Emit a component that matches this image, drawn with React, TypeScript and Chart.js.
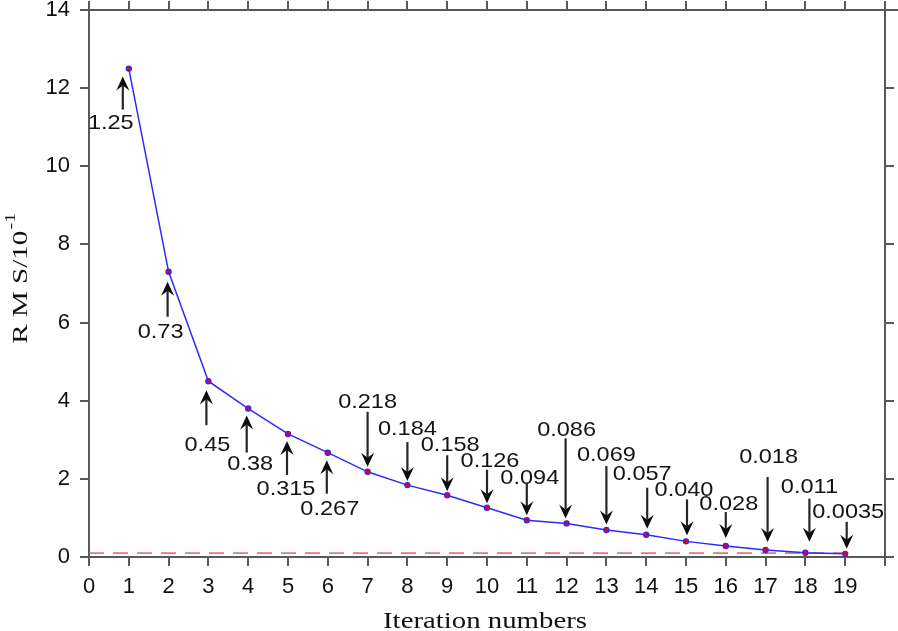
import React, { useEffect, useRef } from 'react';
import { Chart, registerables } from 'chart.js';

Chart.register(...registerables);

// ---------- data ----------
const iterations = [1, 2, 3, 4, 5, 6, 7, 8, 9, 10, 11, 12, 13, 14, 15, 16, 17, 18, 19];
const rmsValues = [12.5, 7.3, 4.5, 3.8, 3.15, 2.67, 2.18, 1.84, 1.58, 1.26, 0.94, 0.86, 0.69, 0.57, 0.4, 0.28, 0.18, 0.11, 0.08];
const rmsLabels = ['1.25', '0.73', '0.45', '0.38', '0.315', '0.267', '0.218', '0.184', '0.158', '0.126', '0.094', '0.086', '0.069', '0.057', '0.040', '0.028', '0.018', '0.011', '0.0035'];
const thresholdLevel = 0.1;
const thresholdXs = [0, 19.2];
const xMin = 0;
const xMax = 20;
const yMin = 0;
const yMax = 14;
const xTitle = 'Iteration numbers';
const yTitleMain = 'R M S/10';
const yTitleSup = '-1';

// ---------- annotation layout (pixel offsets relative to each point) ----------
const annTip = [8, 10, 9, 7, 7, 7.5, -5, -4, -4, -4.5, -5, -5, -5.5, -6, -6, -8, -8, -11, -5];
const annTail = [41, 45, 44, 44, 41, 41, -60, -43, -40, -38, -37, -85, -64, -47, -42, -34, -73, -54, -32];
const annLabel = [53, 59, 62, 54, 54, 55, -71, -58, -52, -48, -44, -95, -77, -62, -53, -43.5, -94, -67, -43];
const annArrowDx = [-6, -1, -2, -1.5, -1, -1, 0, 0, 0, 0, 0, -1, 0, 1, 1, 0, 2, 4, 1.5];
const annLabelDx = [-18, -8, -1, 2, -2, 2, 0, 0, 3, 3, 3, 0, 0, -4, -2, 3, 3, 4, 3];

const W = 898;
const H = 631;
const AXIS_COLOR = '#595959';
const SANS = '"Liberation Sans", Arial, Helvetica, sans-serif';
const SERIF = '"Liberation Serif", "Times New Roman", Times, serif';

function drawArrow(ctx: CanvasRenderingContext2D, x: number, y0: number, y1: number) {
  const dir = y1 > y0 ? 1 : -1;
  const headLen = 14;
  const headHalf = 6.5;
  const notch = 9;
  ctx.strokeStyle = '#262626';
  ctx.lineWidth = 2.2;
  ctx.beginPath();
  ctx.moveTo(x, y0);
  ctx.lineTo(x, y1 - dir * notch);
  ctx.stroke();
  ctx.fillStyle = '#0d0d0d';
  ctx.beginPath();
  ctx.moveTo(x, y1);
  ctx.lineTo(x - headHalf, y1 - dir * headLen);
  ctx.lineTo(x, y1 - dir * notch);
  ctx.lineTo(x + headHalf, y1 - dir * headLen);
  ctx.closePath();
  ctx.fill();
}

const arrowsPlugin = {
  id: 'rmsArrows',
  afterDatasetsDraw(chart: any) {
    const ctx: CanvasRenderingContext2D = chart.ctx;
    const xs = chart.scales.x;
    const ys = chart.scales.y;
    ctx.save();
    iterations.forEach((it, i) => {
      const px = xs.getPixelForValue(it);
      const py = ys.getPixelForValue(rmsValues[i]);
      drawArrow(ctx, px + annArrowDx[i], py + annTail[i], py + annTip[i]);
      ctx.save();
      ctx.translate(px + annLabelDx[i], py + annLabel[i] + 7.5);
      ctx.scale(1.12, 1);
      ctx.font = `21px ${SANS}`;
      ctx.fillStyle = '#141414';
      ctx.textAlign = 'center';
      ctx.textBaseline = 'alphabetic';
      ctx.fillText(rmsLabels[i], 0, 0);
      ctx.restore();
    });
    ctx.restore();
  },
};

const framePlugin = {
  id: 'frameAndTitles',
  afterDraw(chart: any) {
    const ctx: CanvasRenderingContext2D = chart.ctx;
    const ca = chart.chartArea;
    ctx.save();
    // top axis line extension to the right edge
    ctx.strokeStyle = AXIS_COLOR;
    ctx.lineWidth = 2;
    ctx.beginPath();
    ctx.moveTo(ca.right, ca.top);
    ctx.lineTo(W, ca.top);
    ctx.stroke();

    // x title
    ctx.save();
    ctx.translate((ca.left + ca.right) / 2 - 2, 628);
    ctx.scale(1.2, 1);
    ctx.font = `24px ${SERIF}`;
    ctx.fillStyle = '#111';
    ctx.textAlign = 'center';
    ctx.textBaseline = 'alphabetic';
    ctx.fillText(xTitle, 0, 0);
    ctx.restore();

    // y title (rotated, with superscript)
    ctx.save();
    ctx.translate(27, 279);
    ctx.rotate(-Math.PI / 2);
    const sx = 1.32;
    ctx.scale(sx, 1);
    ctx.fillStyle = '#111';
    ctx.textAlign = 'left';
    ctx.textBaseline = 'alphabetic';
    ctx.font = `22px ${SERIF}`;
    const wMain = ctx.measureText(yTitleMain).width;
    ctx.font = `15px ${SERIF}`;
    const wSup = ctx.measureText(yTitleSup).width;
    const start = -(wMain + wSup) / 2;
    ctx.font = `22px ${SERIF}`;
    ctx.fillText(yTitleMain, start, 0);
    ctx.font = `15px ${SERIF}`;
    ctx.fillText(yTitleSup, start + wMain + 1, -12);
    ctx.restore();

    ctx.restore();
  },
};

function gridOpts() {
  return { drawOnChartArea: false, drawTicks: true, tickLength: 9, color: AXIS_COLOR, lineWidth: 2 };
}
function borderOpts() {
  return { display: true, color: AXIS_COLOR, width: 2 };
}

export default function App() {
  const canvasRef = useRef<HTMLCanvasElement | null>(null);

  useEffect(() => {
    const canvas = canvasRef.current;
    if (!canvas) return;
    const mainData = iterations.map((x, i) => ({ x, y: rmsValues[i] }));
    const threshData = thresholdXs.map((x) => ({ x, y: thresholdLevel }));
    const tickFont = { family: SANS, size: 22 };

    const chart = new Chart(canvas, {
      type: 'line',
      data: {
        datasets: [
          {
            data: mainData,
            borderColor: '#2b2bff',
            borderWidth: 1.5,
            pointRadius: 2.6,
            pointBackgroundColor: '#e0001a',
            pointBorderColor: '#2b2bff',
            pointBorderWidth: 1.2,
            tension: 0,
            order: 0,
          },
          {
            data: threshData,
            borderColor: 'rgba(238, 100, 100, 0.9)',
            borderWidth: 1.6,
            borderDash: [15, 9],
            pointRadius: 0,
            tension: 0,
            order: 1,
          },
        ],
      } as any,
      options: {
        animation: false,
        responsive: false,
        devicePixelRatio: 1,
        layout: { padding: 0 },
        plugins: { legend: { display: false }, tooltip: { enabled: false }, title: { display: false } },
        scales: {
          x: {
            type: 'linear',
            position: 'bottom',
            min: xMin,
            max: xMax,
            ticks: {
              stepSize: 1,
              autoSkip: false,
              maxRotation: 0,
              color: '#111',
              font: tickFont,
              padding: 8,
              callback: (v: any) => (v === xMax ? '' : String(v)),
            },
            grid: gridOpts(),
            border: borderOpts(),
            afterFit: (s: any) => {
              s.height = 74;
              s.paddingLeft = 0;
              s.paddingRight = 0;
            },
          },
          x2: {
            type: 'linear',
            position: 'top',
            min: xMin,
            max: xMax,
            ticks: { stepSize: 1, display: false },
            grid: gridOpts(),
            border: borderOpts(),
            afterFit: (s: any) => {
              s.height = 10;
              s.paddingLeft = 0;
              s.paddingRight = 0;
            },
          },
          y: {
            type: 'linear',
            position: 'left',
            min: yMin,
            max: yMax,
            ticks: { stepSize: 2, color: '#111', font: tickFont, padding: 10 },
            grid: gridOpts(),
            border: borderOpts(),
            afterFit: (s: any) => {
              s.width = 89;
              s.paddingTop = 0;
              s.paddingBottom = 0;
            },
          },
          y2: {
            type: 'linear',
            position: 'right',
            min: yMin,
            max: yMax,
            ticks: { stepSize: 2, display: false },
            grid: gridOpts(),
            border: borderOpts(),
            afterFit: (s: any) => {
              s.width = 13;
              s.paddingTop = 0;
              s.paddingBottom = 0;
            },
          },
        },
      } as any,
      plugins: [arrowsPlugin, framePlugin],
    });
    return () => chart.destroy();
  }, []);

  return (
    <div style={{ position: 'fixed', left: 0, top: 0, width: W, height: H, background: '#fff' }}>
      <canvas ref={canvasRef} width={W} height={H} style={{ display: 'block', width: W, height: H }} />
    </div>
  );
}
